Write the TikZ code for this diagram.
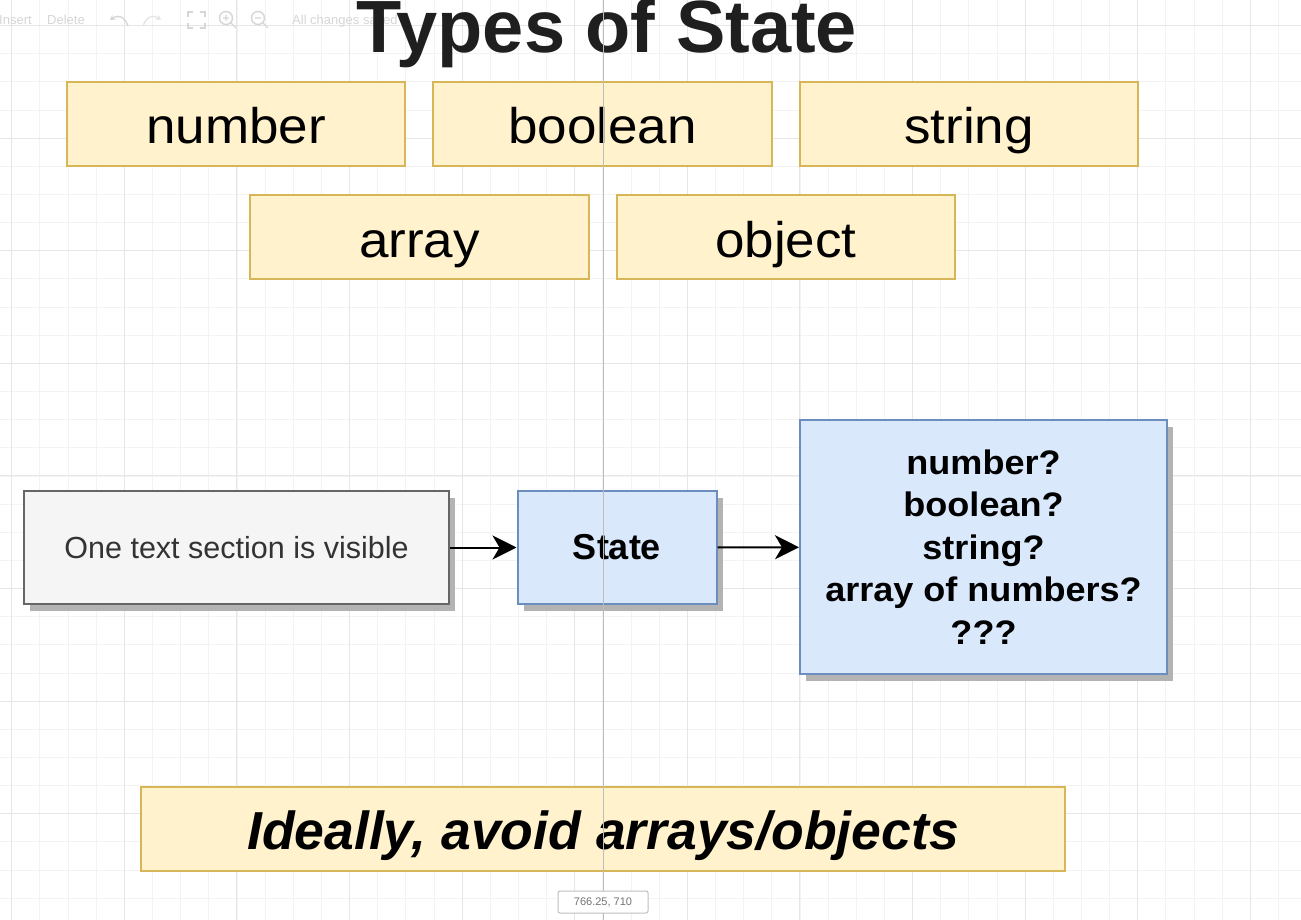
\documentclass[tikz,border=0pt]{standalone}
\usepackage{fontspec}
\setmainfont{Liberation Sans}
\usetikzlibrary{arrows.meta,shadows}
\definecolor{yelf}{HTML}{FFF2CC}
\definecolor{yelb}{HTML}{D6B656}
\definecolor{bluf}{HTML}{DAE8FC}
\definecolor{blub}{HTML}{6C8EBF}
\definecolor{gryf}{HTML}{F5F5F5}
\definecolor{gryb}{HTML}{666666}
\definecolor{gridmin}{HTML}{F3F3F3}
\definecolor{gridmaj}{HTML}{E6E6E6}
\definecolor{uitext}{HTML}{D6D6D6}
\definecolor{guide}{HTML}{BDBDBD}
\definecolor{shadc}{HTML}{B3B3B3}
\newcommand\wideq[1]{\scalebox{1.06}[1]{#1}}
\newcommand\widey[1]{\scalebox{1.06}[1]{#1}}
\begin{document}
\begin{tikzpicture}[x=1pt,y=-1pt,
  minorgrid/.style={draw=gridmin,line width=0.8pt},
  majorgrid/.style={draw=gridmaj,line width=1pt},
  shad/.style={drop shadow={shadow xshift=6pt,shadow yshift=-7pt,fill=shadc,opacity=1}},
  yelbox/.style={draw=yelb,fill=yelf,line width=1.8pt,inner sep=0pt,minimum height=84pt,
    text height=45pt,text depth=5pt,font=\fontsize{50}{60}\selectfont,text=black},
  grybox/.style={shad,draw=gryb,fill=gryf,line width=2pt,inner sep=0pt},
  blubox/.style={shad,draw=blub,fill=bluf,line width=2pt,inner sep=0pt},
  arr/.style={draw=black,line width=2pt,-{Stealth[length=24pt,width=24pt,inset=7pt]}},
  uilabel/.style={text=uitext,font=\fontsize{13}{15}\selectfont,inner sep=0pt},
  uiicon/.style={draw=uitext,line width=1.4pt}
]
\useasboundingbox (0,0) rectangle (1301,920);
\fill[white] (0,0) rectangle (1301,920);
% grid
\foreach \i in {0,...,46} \draw[minorgrid] ({11.7+28.15*\i},0) -- ({11.7+28.15*\i},920);
\foreach \j in {-1,...,32} \draw[minorgrid] (0,{25.5+28.15*\j}) -- (1301,{25.5+28.15*\j});
\foreach \i in {0,...,11} \draw[majorgrid] ({11.7+112.6*\i},0) -- ({11.7+112.6*\i},920);
\foreach \j in {0,...,8} \draw[majorgrid] (0,{25.5+112.6*\j}) -- (1301,{25.5+112.6*\j});

% toolbar (faint)
\node[uilabel,anchor=base west] (tbins) at (-1,25) {Insert};
\node[uilabel,anchor=base west] (tbdel) at (47,25) {Delete};
\node[uilabel,anchor=base west] (tbsaved) at (292,25) {All changes saved};
\draw[uiicon,-{Stealth[length=5pt,width=6pt]}] (128,26) .. controls (124,15) and (117,15) .. (110,20);
\draw[uiicon,draw=uitext!60,-{Stealth[length=5pt,width=6pt]}] (143,26) .. controls (147,15) and (154,15) .. (161,20);
\draw[uiicon] (188,17) -- (188,12) -- (193,12) (200,12) -- (205,12) -- (205,17)
  (205,23) -- (205,28) -- (200,28) (193,28) -- (188,28) -- (188,23);
\draw[uiicon] (226,18) circle (6.5pt) (231,23) -- (236,28) (223,18) -- (229,18) (226,15) -- (226,21);
\draw[uiicon] (258,18) circle (6.5pt) (263,23) -- (268,28) (255,18) -- (261,18);

% title
\node[anchor=base,inner sep=0pt,text=black!88,font=\fontsize{74}{80}\selectfont\bfseries] (title) at (607,53) {Types of State};

% type boxes
\node[yelbox,minimum width=338pt] (num) at (236,124) {\widey{number}};
\node[yelbox,minimum width=339pt] (bool) at (602.5,124) {\widey{boolean}};
\node[yelbox,minimum width=338pt] (str) at (969,124) {\widey{string}};
\node[yelbox,minimum width=339pt] (arrb) at (419.5,237) {\widey{array}};
\node[yelbox,minimum width=338pt] (obj) at (786,237) {\widey{object}};

% flow
\node[grybox,minimum width=425pt,minimum height=113pt,text=black!80,font=\fontsize{30.5}{36}\selectfont] (vis) at (236.5,547.5) {One text section is visible};
\node[blubox,minimum width=199pt,minimum height=113pt,font=\fontsize{36}{42}\selectfont\bfseries] (state) at (617,547.5) {State};
\node[blubox,minimum width=367pt,minimum height=254pt,align=center,font=\fontsize{34}{42.5}\selectfont\bfseries] (opts) at (983.5,547) {\wideq{number?}\\\wideq{boolean?}\\\wideq{string?}\\\wideq{array of numbers?}\\\wideq{???}};
\draw[arr] (vis) -- (state);
\draw[arr] (state) -- (opts);

% bottom note
\node[yelbox,minimum width=924pt,font=\fontsize{53.5}{60}\selectfont\bfseries\itshape] (note) at (603,829) {Ideally, avoid arrays/objects};

% guide line
\coordinate (gtop) at (603,0);
\coordinate (gbot) at (603,920);
\draw[draw=guide,line width=1pt] (gtop) -- (gbot);

% coordinate tooltip
\node[draw=black!25,fill=white,rounded corners=2pt,line width=1pt,minimum width=90pt,minimum height=22pt,inner sep=0pt,text=black!55,font=\fontsize{11}{13}\selectfont] (tip) at (603,902) {766.25, 710};
\end{tikzpicture}
\end{document}
